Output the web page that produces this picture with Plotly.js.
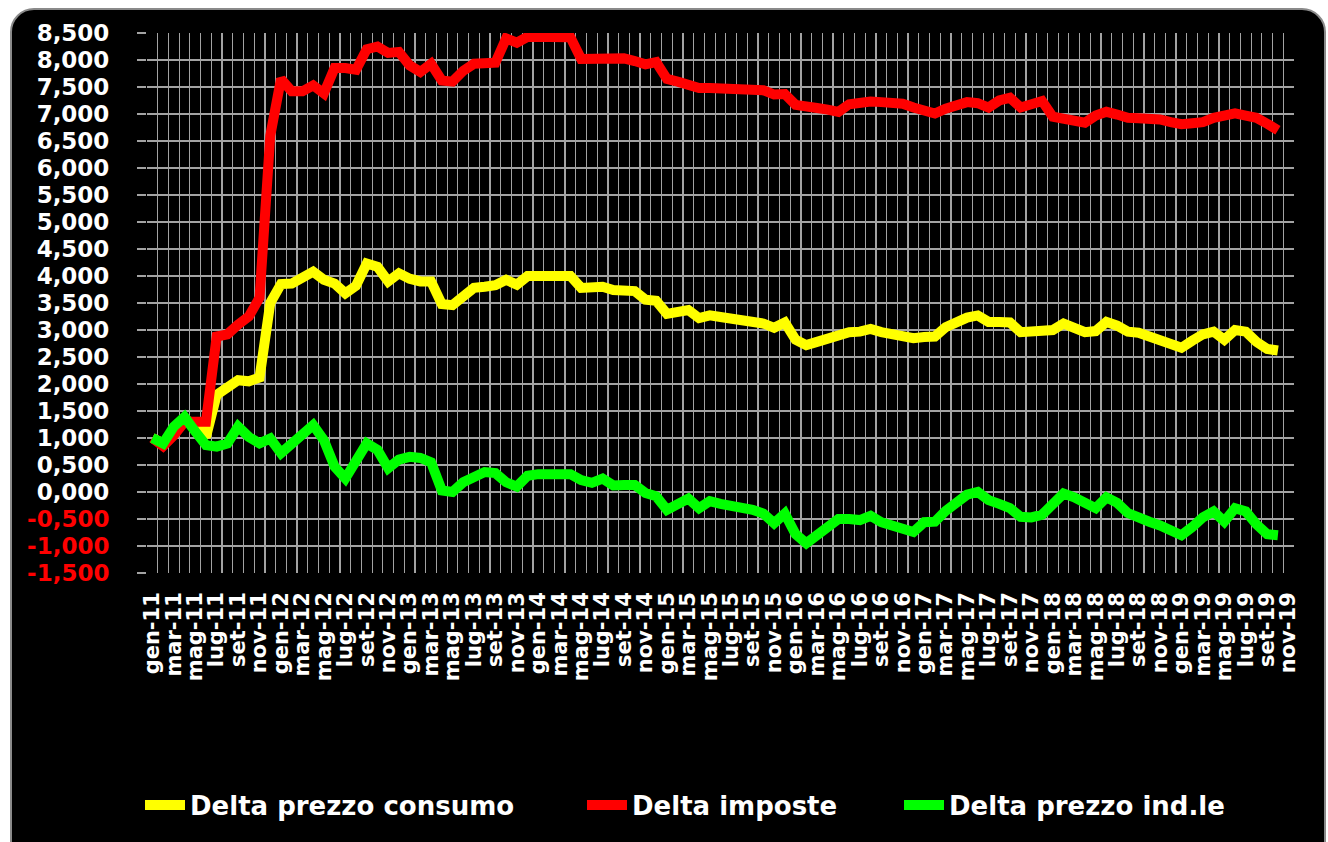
<!DOCTYPE html>
<html>
<head>
<meta charset="utf-8">
<script src="https://cdn.plot.ly/plotly-3.0.1.min.js"></script>
<style>
  html, body { margin:0; padding:0; background:#ffffff; overflow:hidden; width:1328px; height:842px; }
  #frame { position:absolute; left:10px; top:8px; width:1316px; height:860px; background:#000; border:2px solid #8a8a8a; border-radius:24px; box-sizing:border-box; }
  #chart { position:absolute; left:0; top:0; width:1328px; height:842px; }
</style>
</head>
<body>
<div id="frame"></div>
<div id="chart"></div>
<script>
// Category axis: months gen-11 .. nov-19
const months = [
 'gen-11','feb-11','mar-11','apr-11','mag-11','giu-11','lug-11','ago-11','set-11','ott-11','nov-11','dic-11',
 'gen-12','feb-12','mar-12','apr-12','mag-12','giu-12','lug-12','ago-12','set-12','ott-12','nov-12','dic-12',
 'gen-13','feb-13','mar-13','apr-13','mag-13','giu-13','lug-13','ago-13','set-13','ott-13','nov-13','dic-13',
 'gen-14','feb-14','mar-14','apr-14','mag-14','giu-14','lug-14','ago-14','set-14','ott-14','nov-14','dic-14',
 'gen-15','feb-15','mar-15','apr-15','mag-15','giu-15','lug-15','ago-15','set-15','ott-15','nov-15','dic-15',
 'gen-16','feb-16','mar-16','apr-16','mag-16','giu-16','lug-16','ago-16','set-16','ott-16','nov-16','dic-16',
 'gen-17','feb-17','mar-17','apr-17','mag-17','giu-17','lug-17','ago-17','set-17','ott-17','nov-17','dic-17',
 'gen-18','feb-18','mar-18','apr-18','mag-18','giu-18','lug-18','ago-18','set-18','ott-18','nov-18','dic-18',
 'gen-19','feb-19','mar-19','apr-19','mag-19','giu-19','lug-19','ago-19','set-19','ott-19','nov-19'
];

const seriesNames = ['Delta prezzo consumo', 'Delta imposte', 'Delta prezzo ind.le'];
const seriesColors = ['#ffff00', '#ff0000', '#00ff00'];

const deltaConsumo = [
 1.00,0.90,1.15,1.32,1.28,1.02,1.80,1.92,2.07,2.05,2.12,3.50,
 3.85,3.86,3.95,4.08,3.93,3.86,3.68,3.82,4.23,4.17,3.90,4.05,
 3.95,3.90,3.90,3.48,3.46,3.62,3.78,3.80,3.83,3.93,3.84,4.00,
 4.00,4.00,4.00,4.00,3.78,3.78,3.80,3.74,3.72,3.72,3.56,3.54,
 3.30,3.33,3.37,3.22,3.27,3.24,3.21,3.19,3.19,3.12,3.04,3.14,
 2.82,2.72,2.78,2.85,2.92,2.96,2.97,3.02,2.96,2.93,2.89,2.85,
 2.87,2.88,3.05,3.15,3.23,3.27,3.15,3.15,3.14,2.96,2.97,2.98,
 3.00,3.12,3.05,2.96,2.98,3.15,3.08,2.97,2.95,2.88,2.80,2.72,
 2.67,2.80,2.92,2.97,2.82,3.00,2.97,2.78,2.65,2.62
];

const deltaImposte = [
 1.00,0.85,1.05,1.30,1.30,1.30,2.88,2.92,3.10,3.25,3.60,6.60,
 7.65,7.42,7.42,7.53,7.38,7.85,7.85,7.82,8.20,8.25,8.13,8.15,
 7.90,7.78,7.93,7.62,7.60,7.80,7.93,7.95,7.95,8.40,8.32,8.43,
 8.43,8.43,8.43,8.42,8.02,8.02,8.03,8.03,8.03,7.98,7.92,7.96,
 7.65,7.60,7.55,7.48,7.48,7.48,7.46,7.44,7.47,7.44,7.36,7.37,
 7.17,7.12,7.11,7.08,7.04,7.18,7.22,7.23,7.22,7.21,7.19,7.12,
 7.05,7.01,7.10,7.16,7.22,7.20,7.12,7.25,7.30,7.12,7.20,7.24,
 6.95,6.90,6.86,6.84,6.97,7.04,6.99,6.93,6.92,6.92,6.90,6.85,
 6.81,6.83,6.85,6.93,6.98,7.01,6.97,6.93,6.82,6.70
];

const deltaIndustriale = [
 1.00,0.90,1.21,1.39,1.12,0.87,0.84,0.90,1.21,1.02,0.90,0.99,
 0.72,0.90,1.06,1.24,0.96,0.47,0.25,0.55,0.90,0.78,0.44,0.60,
 0.65,0.63,0.55,0.03,0.00,0.18,0.30,0.37,0.35,0.18,0.10,0.30,
 0.33,0.33,0.33,0.33,0.22,0.17,0.25,0.12,0.13,0.13,-0.02,-0.08,
 -0.33,-0.20,-0.12,-0.30,-0.17,-0.22,-0.25,-0.28,-0.33,-0.40,-0.58,-0.40,
 -0.78,-0.95,-0.78,-0.65,-0.50,-0.50,-0.52,-0.44,-0.56,-0.62,-0.68,-0.74,
 -0.56,-0.55,-0.35,-0.18,-0.05,0.00,-0.15,-0.22,-0.30,-0.46,-0.47,-0.42,
 -0.20,-0.03,-0.10,-0.20,-0.30,-0.10,-0.20,-0.39,-0.45,-0.55,-0.62,-0.72,
 -0.80,-0.65,-0.47,-0.36,-0.55,-0.30,-0.36,-0.60,-0.78,-0.80
];

const yTickVals = [-1.5,-1.0,-0.5,0,0.5,1.0,1.5,2.0,2.5,3.0,3.5,4.0,4.5,5.0,5.5,6.0,6.5,7.0,7.5,8.0,8.5];
const yTickText = ['-1,500','-1,000','-0,500','0,000','0,500','1,000','1,500','2,000','2,500','3,000','3,500',
                   '4,000','4,500','5,000','5,500','6,000','6,500','7,000','7,500','8,000','8,500'];

const FONT = 'DejaVu Sans, Verdana, sans-serif';
const GRID = '#a3a3a3';

const allSeries = [deltaConsumo, deltaImposte, deltaIndustriale];
const legendIds = ['legend', 'legend2', 'legend3'];

const traces = allSeries.map((vals, s) => ({
  type: 'scatter',
  mode: 'lines',
  name: seriesNames[s],
  x: vals.map((v, i) => i),
  y: vals,
  line: { color: seriesColors[s], width: 10, shape: 'linear' },
  legend: legendIds[s],
  hoverinfo: 'skip'
}));

const xTickVals = months.map((m, i) => i).filter(i => i % 2 === 0);
const xTickText = xTickVals.map(i => months[i]);
const xBoundaries = months.map((m, i) => i - 0.5);
const yGridVals = yTickVals.filter(v => v < 8.5);

const legendFont = { family: FONT, size: 26, color: '#ffffff', weight: 'bold' };
function legendAt(xp) {
  return { x: xp, y: -0.43, xanchor: 'left', yanchor: 'middle', orientation: 'h',
           bgcolor: 'rgba(0,0,0,0)', borderwidth: 0, font: legendFont, itemwidth: 40 };
}

const layout = {
  width: 1328, height: 842,
  margin: { l: 147, r: 34, t: 33, b: 269 },
  paper_bgcolor: 'rgba(0,0,0,0)',
  plot_bgcolor: '#000000',
  showlegend: true,
  xaxis: {
    type: 'linear',
    range: [-0.5, 106.5],
    tickmode: 'array', tickvals: xTickVals, ticktext: xTickText,
    tickangle: -90,
    tickfont: { family: FONT, size: 21, color: '#ffffff', weight: 'bold' },
    ticks: '', showgrid: false, zeroline: false, showline: false,
    ticklabelstandoff: 14,
    minor: { tickmode: 'array', tickvals: xBoundaries, showgrid: true, gridcolor: GRID, gridwidth: 1.2, ticks: '' },
    fixedrange: true
  },
  yaxis: {
    range: [-1.5, 8.5],
    tickmode: 'array', tickvals: yTickVals,
    ticktext: yTickText.map((t, i) => yTickVals[i] < 0 ? '<span style="color:#ff0000">' + t + '</span>' : t),
    tickfont: { family: FONT, size: 23, color: '#ffffff', weight: 'bold' },
    ticks: 'outside', ticklen: 9, tickcolor: GRID, tickwidth: 1.2,
    showgrid: false, zeroline: false, showline: false,
    ticklabelstandoff: 23,
    minor: { tickmode: 'array', tickvals: yGridVals, showgrid: true, gridcolor: GRID, gridwidth: 1.2, ticks: '' },
    fixedrange: true
  },
  legend: legendAt((140 - 147) / 1147),
  legend2: legendAt((582 - 147) / 1147),
  legend3: legendAt((899 - 147) / 1147)
};

Plotly.newPlot('chart', traces, layout, { displayModeBar: false, staticPlot: true });
</script>
</body>
</html>
